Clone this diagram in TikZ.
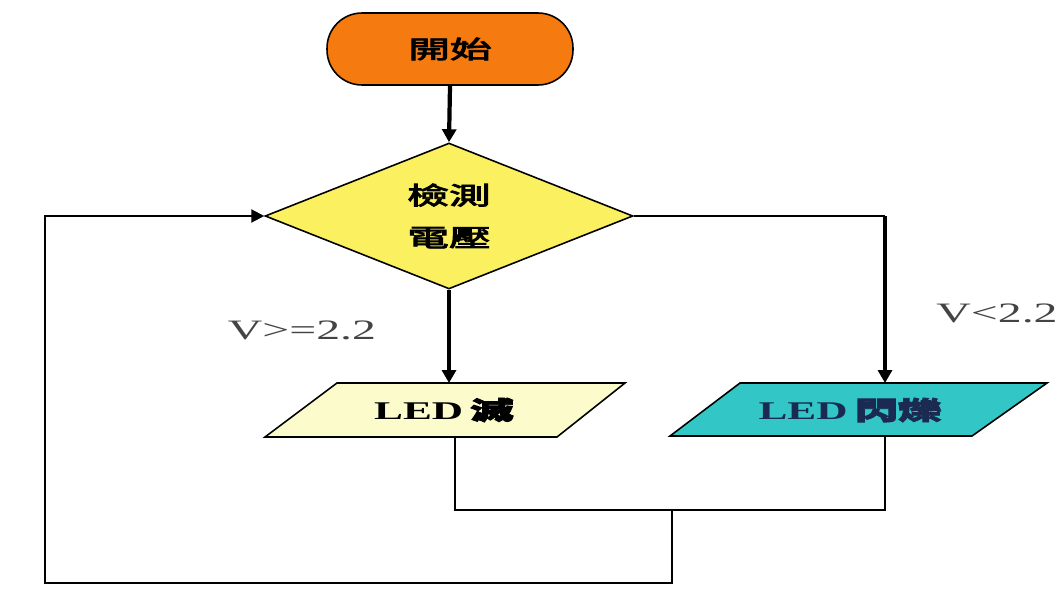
\documentclass[tikz,border=0pt]{standalone}
\usepackage{fontspec}
\usepackage{graphicx}
\setmainfont{Liberation Serif}
\newfontfamily\cjk{Noto Sans CJK TC}[FakeBold=3]
\usetikzlibrary{shapes.geometric,arrows.meta}
\definecolor{startor}{HTML}{F57A10}
\definecolor{diayel}{HTML}{FAF060}
\definecolor{ledyel}{HTML}{FBFBCC}
\definecolor{ledteal}{HTML}{33C6C6}
\definecolor{labgray}{HTML}{444444}
\definecolor{navy}{HTML}{1A2A50}
\newcommand{\wide}[1]{\scalebox{1.7}[1]{#1}}
\tikzset{
  outline/.style={draw=black, line width=0.9pt},
  mainarrow/.style={line width=2.4pt, -{Triangle[length=0.26cm,width=0.28cm]}},
  thinline/.style={line width=1.2pt},
  thinarrow/.style={line width=1.2pt, -{Triangle[length=0.26cm,width=0.26cm]}},
  cjktext/.style={font=\cjk\fontsize{14}{22}\selectfont, align=center},
  ledtext/.style={font=\bfseries\fontsize{14.5}{18}\selectfont},
  condlabel/.style={font=\fontsize{16}{18}\selectfont, text=labgray}
}
\begin{document}
\begin{tikzpicture}[x=0.02cm,y=-0.02cm]
\useasboundingbox[fill=white] (0,0) rectangle (1061,595);
% start
\node[outline, fill=startor, rounded corners=0.7cm, minimum width=4.92cm, minimum height=1.44cm, cjktext] (start) at (450,49) {\wide{開始}};
% decision
\node[outline, fill=diayel, diamond, inner sep=0pt, minimum width=7.36cm, minimum height=2.92cm, shape aspect=2.5, cjktext] (dec) at (449,216) {\wide{檢測}\\[2pt]\wide{電壓}};
% LED off parallelogram
\fill[ledyel] (337,383) -- (625,383) -- (557,437) -- (265,437) -- cycle;
\draw[outline] (337,383) -- (625,383) -- (557,437) -- (265,437) -- cycle;
\node[ledtext, minimum height=1.08cm, minimum width=4cm] (led1) at (444,410) {\wide{LED\,{\cjk 滅}}};
% LED blink parallelogram
\fill[ledteal] (740,383) -- (1047,383) -- (972,436) -- (670,436) -- cycle;
\draw[outline] (740,383) -- (1047,383) -- (972,436) -- (670,436) -- cycle;
\node[ledtext, text=navy, minimum height=1.06cm, minimum width=4.5cm] (led2) at (850,410) {\wide{LED\,{\cjk 閃爍}}};
% coordinates
\coordinate (led1in) at (452,383);
\coordinate (led1out) at (455,437);
\coordinate (led2in) at (885,383);
\coordinate (led2out) at (885,436);
\coordinate (rcorner) at (885,216);
\coordinate (join) at (672,510);
\coordinate (lbot) at (45,583);
% connectors
\draw[mainarrow] (start.south) -- (dec.north);
\draw[mainarrow] (dec.south) -- (dec.south |- led1in);
\draw[thinline] (dec.east) -- (rcorner);
\draw[mainarrow] (rcorner) -- (led2in);
\draw[thinline] (led1out) |- (join) -| (led2out);
\draw[thinarrow] (join) |- (lbot) |- (dec.west);
% labels
\node[condlabel] (lab1) at (302,330) {\wide{V>=2.2}};
\node[condlabel] (lab2) at (997,313) {\wide{V<2.2}};
\end{tikzpicture}
\end{document}
